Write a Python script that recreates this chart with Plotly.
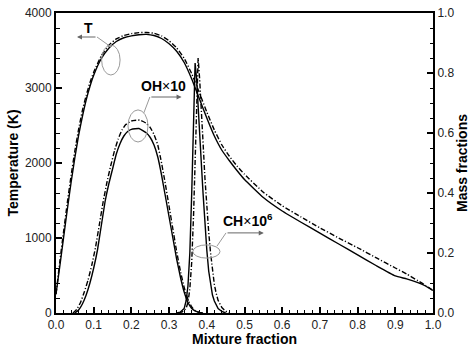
import plotly.graph_objects as go

# ---- data ----
mix_T = [0.0, 0.01, 0.02, 0.03, 0.04, 0.05, 0.06, 0.07, 0.08, 0.09, 0.10, 0.12, 0.14, 0.16, 0.18,
         0.20, 0.22, 0.24, 0.26, 0.28, 0.30, 0.32, 0.34, 0.36, 0.38, 0.40, 0.42, 0.44, 0.46, 0.48,
         0.50, 0.55, 0.60, 0.65, 0.70, 0.75, 0.80, 0.85, 0.90, 0.93, 0.96, 0.98, 1.00]
T_solid = [250, 620, 1000, 1380, 1740, 2070, 2370, 2620, 2840, 3020, 3170, 3390, 3530, 3620, 3670,
           3695, 3710, 3715, 3700, 3660, 3590, 3490, 3340, 3120, 2860, 2600, 2360, 2170, 2030, 1900,
           1780, 1540, 1360, 1210, 1065, 920, 775, 630, 495, 455, 405, 360, 300]
T_dashdot = [250, 680, 1080, 1470, 1830, 2160, 2450, 2700, 2900, 3070, 3210, 3430, 3570, 3655, 3700,
             3725, 3738, 3740, 3730, 3695, 3630, 3535, 3395, 3190, 2940, 2680, 2440, 2240, 2090, 1960,
             1850, 1610, 1430, 1280, 1135, 1000, 870, 735, 600, 520, 430, 370, 300]

mix_OH = [0.05, 0.06, 0.07, 0.08, 0.09, 0.10, 0.11, 0.12, 0.13, 0.14, 0.15, 0.16, 0.17, 0.18, 0.19,
          0.20, 0.22, 0.24, 0.25, 0.26, 0.27, 0.28, 0.29, 0.30, 0.31, 0.32, 0.33, 0.34, 0.35, 0.36,
          0.37, 0.38, 0.39]
OH_solid = [0.0, 0.01, 0.03, 0.06, 0.10, 0.15, 0.21, 0.29, 0.37, 0.43, 0.48, 0.53, 0.565, 0.59, 0.605,
            0.612, 0.615, 0.60, 0.585, 0.56, 0.52, 0.46, 0.39, 0.32, 0.25, 0.18, 0.12, 0.07, 0.035, 0.015,
            0.006, 0.002, 0.0]
mix_OH_dd = [0.045, 0.055, 0.065, 0.075, 0.085, 0.095, 0.105, 0.115, 0.125, 0.135, 0.145, 0.155, 0.165,
             0.175, 0.185, 0.20, 0.222, 0.24, 0.25, 0.26, 0.27, 0.28, 0.29, 0.30, 0.31, 0.32, 0.33, 0.34,
             0.35, 0.36, 0.37, 0.38, 0.39]
OH_dashdot = [0.0, 0.012, 0.035, 0.07, 0.11, 0.16, 0.22, 0.295, 0.37, 0.435, 0.49, 0.54, 0.58,
              0.61, 0.628, 0.64, 0.643, 0.632, 0.618, 0.595, 0.56, 0.50, 0.43, 0.355, 0.28, 0.205, 0.14,
              0.085, 0.045, 0.02, 0.007, 0.002, 0.0]

mix_CH = [0.32, 0.33, 0.34, 0.345, 0.35, 0.355, 0.36, 0.365, 0.369, 0.373, 0.377, 0.385, 0.39, 0.395,
          0.40, 0.405, 0.41, 0.415, 0.42, 0.43, 0.44, 0.45]
CH_solid = [0.0, 0.003, 0.015, 0.04, 0.09, 0.2, 0.4, 0.65, 0.833, 0.78, 0.70, 0.51, 0.40, 0.29,
            0.21, 0.14, 0.095, 0.06, 0.04, 0.015, 0.005, 0.0]
mix_CH_dd = [0.325, 0.335, 0.345, 0.35, 0.355, 0.36, 0.365, 0.37, 0.374, 0.377, 0.381, 0.385, 0.39,
             0.395, 0.40, 0.405, 0.41, 0.415, 0.42, 0.425, 0.43, 0.44, 0.45, 0.46]
CH_dashdot = [0.0, 0.004, 0.015, 0.035, 0.08, 0.17, 0.33, 0.55, 0.75, 0.85, 0.78, 0.70, 0.57,
              0.45, 0.35, 0.27, 0.20, 0.14, 0.095, 0.065, 0.042, 0.018, 0.006, 0.0]

x_ticks = [0.0, 0.1, 0.2, 0.3, 0.4, 0.5, 0.6, 0.7, 0.8, 0.9, 1.0]
T_ticks = [0, 1000, 2000, 3000, 4000]
Y_ticks = [0.0, 0.2, 0.4, 0.6, 0.8, 1.0]

# ---- figure ----
DD = "5px,2px,1.2px,2px"
LW = 1.4
SP = dict(shape="spline", smoothing=0.4)
fig = go.Figure()
fig.add_trace(go.Scatter(x=mix_T, y=T_solid, mode="lines", line=dict(color="black", width=LW, **SP), yaxis="y"))
fig.add_trace(go.Scatter(x=mix_T, y=T_dashdot, mode="lines", line=dict(color="black", width=LW, dash=DD, **SP), yaxis="y"))
fig.add_trace(go.Scatter(x=mix_OH, y=OH_solid, mode="lines", line=dict(color="black", width=LW, **SP), yaxis="y2"))
fig.add_trace(go.Scatter(x=mix_OH_dd, y=OH_dashdot, mode="lines", line=dict(color="black", width=LW, dash=DD, **SP), yaxis="y2"))
fig.add_trace(go.Scatter(x=mix_CH, y=CH_solid, mode="lines", line=dict(color="black", width=LW), yaxis="y2"))
fig.add_trace(go.Scatter(x=mix_CH_dd, y=CH_dashdot, mode="lines", line=dict(color="black", width=LW, dash=DD), yaxis="y2"))

FONT = "Liberation Sans, Arial, sans-serif"
tickfont = dict(family=FONT, size=12, color="#222")
titlefont = dict(family=FONT, size=14, color="black", weight="bold")

fig.update_layout(
    width=471, height=347,
    margin=dict(l=56, r=38, t=13, b=34),
    plot_bgcolor="white", paper_bgcolor="white",
    showlegend=False,
    xaxis=dict(range=[0, 1], tickvals=x_ticks, tickformat=".1f", ticks="inside", ticklen=6, tickwidth=2,
               tickcolor="black", showline=True, linecolor="black", linewidth=2, mirror=True,
               showgrid=False, zeroline=False, tickfont=tickfont, automargin=False,
               minor=dict(ticks="inside", ticklen=3.5, tickwidth=1, tickcolor="black", dtick=0.02),
               title=dict(text="Mixture fraction", font=titlefont, standoff=2)),
    yaxis=dict(range=[0, 4000], tickvals=T_ticks, ticks="inside", ticklen=6, tickwidth=2, tickcolor="black",
               showline=True, linecolor="black", linewidth=2, showgrid=False, zeroline=False,
               tickfont=tickfont, automargin=False,
               minor=dict(ticks="inside", ticklen=3.5, tickwidth=1, tickcolor="black", dtick=200),
               title=dict(text="Temperature (K)", font=titlefont, standoff=3)),
    yaxis2=dict(range=[0, 1], tickvals=Y_ticks, tickformat=".1f", overlaying="y", side="right",
                ticks="inside", ticklen=6, tickwidth=2, tickcolor="black",
                showline=True, linecolor="black", linewidth=2, showgrid=False, zeroline=False,
                tickfont=tickfont, automargin=False,
                minor=dict(ticks="inside", ticklen=3.5, tickwidth=1, tickcolor="black", dtick=0.05),
                title=dict(text="Mass fractions", font=titlefont, standoff=4)),
)

GRAY = "#9a9a9a"
# ellipses
fig.add_shape(type="circle", xref="x", yref="y", x0=0.121, x1=0.170, y0=3173, y1=3573,
              line=dict(color=GRAY, width=1))
fig.add_shape(type="circle", xref="x", yref="y2", x0=0.191, x1=0.244, y0=0.57, y1=0.677,
              line=dict(color=GRAY, width=1))
fig.add_shape(type="circle", xref="x", yref="y2", x0=0.363, x1=0.435, y0=0.183, y1=0.227,
              line=dict(color=GRAY, width=1))
# leader lines
fig.add_shape(type="line", xref="x", yref="y", x0=0.1459, y0=3547, x1=0.1088, y1=3680,
              line=dict(color=GRAY, width=1))
fig.add_shape(type="line", xref="x", yref="y2", x0=0.233, y0=0.667, x1=0.249, y1=0.72,
              line=dict(color=GRAY, width=1))
fig.add_shape(type="line", xref="x", yref="y2", x0=0.427, y0=0.223, x1=0.451, y1=0.267,
              line=dict(color=GRAY, width=1))
# arrows
fig.add_annotation(x=0.0557, y=3680, ax=0.1088, ay=3680, xref="x", yref="y", axref="x", ayref="y",
                   showarrow=True, arrowhead=2, arrowsize=1, arrowwidth=1, arrowcolor="#666", text="")
fig.add_annotation(x=0.333, y=0.72, ax=0.249, ay=0.72, xref="x", yref="y2", axref="x", ayref="y2",
                   showarrow=True, arrowhead=2, arrowsize=1, arrowwidth=1, arrowcolor="#666", text="")
fig.add_annotation(x=0.551, y=0.267, ax=0.451, ay=0.267, xref="x", yref="y2", axref="x", ayref="y2",
                   showarrow=True, arrowhead=2, arrowsize=1, arrowwidth=1, arrowcolor="#666", text="")
# labels
lab = dict(family=FONT, size=14, color="black")
fig.add_annotation(x=0.0849, y=3800, xref="x", yref="y", text="<b>T</b>", showarrow=False, font=lab)
fig.add_annotation(x=0.284, y=0.757, xref="x", yref="y2", text="<b>OH</b>×<b>10</b>", showarrow=False, font=lab)
fig.add_annotation(x=0.509, y=0.31, xref="x", yref="y2", text="<b>CH</b>×<b>10<sup>6</sup></b>", showarrow=False, font=lab)

fig.write_html("out.html")
